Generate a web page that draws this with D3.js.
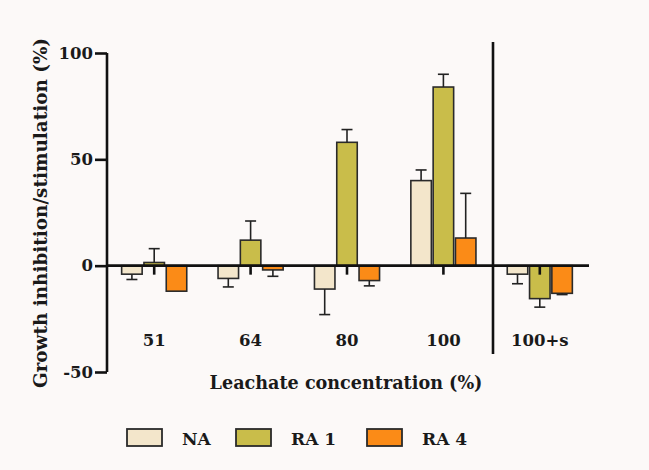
<!DOCTYPE html>
<html>
<head>
<meta charset="utf-8">
<script src="https://cdn.jsdelivr.net/npm/d3@7"></script>
<style>
  html, body { margin: 0; padding: 0; background: #fcf9f8; }
  svg { display: block; }
  text { font-family: "DejaVu Serif", "Liberation Serif", serif; fill: #1a1a1a; font-weight: bold; }
</style>
</head>
<body>
<svg id="chart" width="649" height="470"></svg>
<script>
// Leachate concentrations (%) and treatment series
const categories = ["51", "64", "80", "100", "100+s"];
const seriesNames = ["NA", "RA 1", "RA 4"];
const seriesColors = ["#f3e6cb", "#c9bd4a", "#fb8b17"];

// Mean growth inhibition/stimulation (%) per concentration
const valuesNA  = [-4, -6, -11, 40, -4];
const valuesRA1 = [1.5, 12, 58, 84, -15.5];
const valuesRA4 = [-12, -2, -7, 13, -13];

// Error bar extents (%), drawn outward from the bar end
const errorsNA  = [2.5, 4, 12, 5, 4.5];
const errorsRA1 = [6.5, 9, 6, 6, 4];
const errorsRA4 = [0, 3, 2.5, 21, 0.6];

const yTicks = [-50, 0, 50, 100];

const series = [
  { name: seriesNames[0], color: seriesColors[0], values: valuesNA,  errors: errorsNA },
  { name: seriesNames[1], color: seriesColors[1], values: valuesRA1, errors: errorsRA1 },
  { name: seriesNames[2], color: seriesColors[2], values: valuesRA4, errors: errorsRA4 }
];

const svg = d3.select("#chart");

const x0 = d3.scaleBand().domain(categories).range([106, 588]).paddingInner(0).paddingOuter(0);
const barW = 20.5, barGap = 1.8;
const y = d3.scaleLinear().domain([-50, 100]).range([372, 53]);

const ink = "#111";
const labelFont = 16.5;

// Bars
series.forEach((s, si) => {
  const off = (si - 1) * (barW + barGap);
  const g = svg.append("g");
  categories.forEach((c, ci) => {
    const v = s.values[ci];
    const cx = x0(c) + x0.bandwidth() / 2 + off;
    g.append("rect")
      .attr("x", cx - barW / 2)
      .attr("y", Math.min(y(v), y(0)))
      .attr("width", barW)
      .attr("height", Math.abs(y(v) - y(0)))
      .attr("fill", s.color)
      .attr("stroke", "#2a2a2a")
      .attr("stroke-width", 1.6);
    // error bar
    const e = s.errors[ci];
    if (e > 0) {
      const tip = v >= 0 ? v + e : v - e;
      g.append("line")
        .attr("x1", cx).attr("x2", cx)
        .attr("y1", y(v)).attr("y2", y(tip))
        .attr("stroke", "#222").attr("stroke-width", 1.6);
      g.append("line")
        .attr("x1", cx - 5.5).attr("x2", cx + 5.5)
        .attr("y1", y(tip)).attr("y2", y(tip))
        .attr("stroke", "#222").attr("stroke-width", 1.6);
    }
  });
});

// Y axis
const yAxis = d3.axisLeft(y).tickValues(yTicks).tickSize(12).tickPadding(2).tickFormat(d => String(d));
const ya = svg.append("g").attr("transform", "translate(107,0)").call(yAxis);
ya.select(".domain").attr("stroke", ink).attr("stroke-width", 2.6)
  .attr("d", `M0,${y(100)}V${y(-50)}`);
ya.selectAll(".tick line").attr("stroke", ink).attr("stroke-width", 2.6);
ya.selectAll(".tick text")
  .attr("font-size", labelFont)
  .style("font-family", "'DejaVu Serif', serif").style("font-weight", "bold").attr("fill", "#1a1a1a");

// Zero line with category ticks
const xAxis = d3.axisBottom(x0).tickSize(9).tickFormat("");
const xa = svg.append("g").attr("transform", `translate(0,${y(0)})`).call(xAxis);
xa.select(".domain").attr("stroke", ink).attr("stroke-width", 2.6)
  .attr("d", `M106,0H589`);
xa.selectAll(".tick line").attr("stroke", ink).attr("stroke-width", 2.6);

// Category labels
svg.append("g").selectAll("text").data(categories).join("text")
  .attr("x", d => x0(d) + x0.bandwidth() / 2)
  .attr("y", 346)
  .attr("text-anchor", "middle")
  .attr("font-size", labelFont)
  .text(d => d);

// Separator between the salt treatment and the rest
svg.append("line")
  .attr("x1", 493).attr("x2", 493)
  .attr("y1", 42).attr("y2", 354)
  .attr("stroke", ink).attr("stroke-width", 2.6);

// Axis titles
svg.append("text")
  .attr("transform", "translate(47,213) rotate(-90)")
  .attr("text-anchor", "middle")
  .attr("font-size", 18.4)
  .text("Growth inhibition/stimulation (%)");

svg.append("text")
  .attr("x", 346).attr("y", 389)
  .attr("text-anchor", "middle")
  .attr("font-size", 17.6)
  .text("Leachate concentration (%)");

// Legend
const legendX = [127, 236, 367];
const legend = svg.append("g").selectAll("g").data(series).join("g")
  .attr("transform", (d, i) => `translate(${legendX[i]},429)`);
legend.append("rect")
  .attr("width", 35).attr("height", 17)
  .attr("fill", d => d.color)
  .attr("stroke", "#2a2a2a").attr("stroke-width", 1.8);
legend.append("text")
  .attr("x", 55).attr("y", 16)
  .attr("font-size", 17)
  .text(d => d.name);
</script>
</body>
</html>
